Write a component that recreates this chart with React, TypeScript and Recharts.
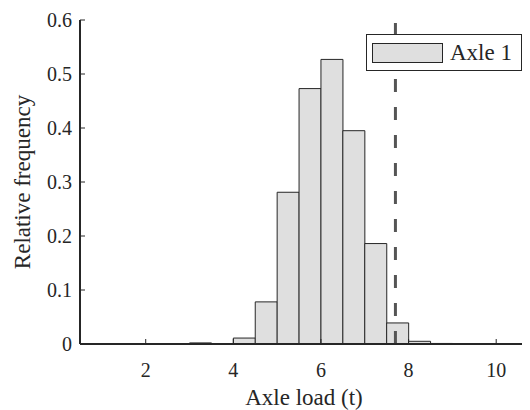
import {
  Bar,
  ComposedChart,
  ReferenceLine,
  XAxis,
  YAxis,
} from "recharts";

// histogram bins (0.5 t wide), centre of each bin
const binCenters = [
  1.25, 1.75, 2.25, 2.75, 3.25, 3.75, 4.25, 4.75, 5.25, 5.75, 6.25, 6.75,
  7.25, 7.75, 8.25, 8.75, 9.25, 9.75, 10.25,
];
const axle1Freq = [
  0, 0, 0, 0, 0.002, 0.0005, 0.011, 0.078, 0.281, 0.473, 0.527, 0.395,
  0.186, 0.039, 0.005, 0.001, 0, 0, 0,
];
const xTicks = [2, 4, 6, 8, 10];
const yTicks = [0, 0.1, 0.2, 0.3, 0.4, 0.5, 0.6];
const limitLoad = 7.7;

const data = binCenters.map((x, i) => ({ x, freq: axle1Freq[i] }));

const AXIS = "#262626";
const FONT = "Liberation Serif, DejaVu Serif, Times New Roman, serif";

export default function App() {
  return (
    <div
      style={{
        position: "relative",
        width: 522,
        height: 402,
        overflow: "hidden",
        fontFamily: FONT,
      }}
    >
      <ComposedChart
        width={560}
        height={402}
        data={data}
        barCategoryGap={0}
        barGap={0}
        margin={{ top: 12, right: 28, bottom: 0, left: 0 }}
        style={{ fontFamily: FONT }}
      >
        <XAxis
          dataKey="x"
          type="number"
          domain={[0.5, 11]}
          ticks={xTicks}
          height={66}
          tickSize={-5}
          tickMargin={24}
          axisLine={{ stroke: AXIS, strokeWidth: 2 }}
          tickLine={{ stroke: AXIS }}
          tick={{ fill: AXIS, fontSize: 20, fontFamily: FONT }}
          label={{
            value: "Axle load (t)",
            position: "insideBottom",
            offset: 5,
            dx: -6,
            fill: AXIS,
            fontSize: 23,
            fontFamily: FONT,
          }}
        />
        <XAxis
          xAxisId="top"
          orientation="top"
          dataKey="x"
          type="number"
          domain={[0.5, 11]}
          ticks={xTicks}
          height={0}
          tickSize={-5}
          tick={false}
          axisLine={{ stroke: AXIS, strokeWidth: 1 }}
          tickLine={{ stroke: AXIS }}
        />
        <YAxis
          type="number"
          domain={[0, 0.6]}
          ticks={yTicks}
          width={72}
          tickSize={-5}
          tickMargin={13}
          axisLine={{ stroke: AXIS, strokeWidth: 2 }}
          tickLine={{ stroke: AXIS }}
          tick={{ fill: AXIS, fontSize: 20, fontFamily: FONT }}
          label={{
            value: "Relative frequency",
            angle: -90,
            position: "center",
            dx: -22,
            fill: AXIS,
            fontSize: 23,
            fontFamily: FONT,
          }}
        />
        <Bar
          dataKey="freq"
          name="Axle 1"
          fill="#dfdfdf"
          stroke={AXIS}
          strokeWidth={1}
          isAnimationActive={false}
        />
        <ReferenceLine
          x={limitLoad}
          stroke="#555555"
          strokeWidth={3}
          strokeDasharray="13 15"
        />
      </ComposedChart>

      <div
        style={{
          position: "absolute",
          left: 358,
          top: 26,
          width: 154,
          height: 35,
          border: `1px solid ${AXIS}`,
          background: "#fff",
          display: "flex",
          alignItems: "center",
        }}
      >
        <div
          style={{
            marginLeft: 5,
            width: 69,
            height: 18,
            background: "#dfdfdf",
            border: `1px solid ${AXIS}`,
          }}
        />
        <span
          style={{ marginLeft: 7, fontSize: 23, color: AXIS, lineHeight: 1 }}
        >
          Axle 1
        </span>
      </div>
    </div>
  );
}
